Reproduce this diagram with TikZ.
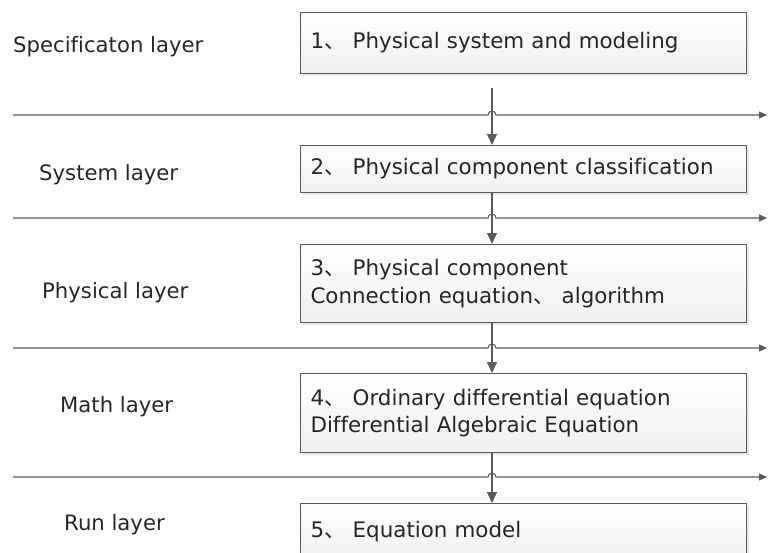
\documentclass[tikz,border=0pt]{standalone}
\usepackage{fontspec}
\setmainfont{DejaVu Sans}[Ligatures=NoCommon]
\newfontfamily\cjk{Noto Sans CJK SC}
\newcommand*{\dun}{{\cjk 、}}
\usetikzlibrary{arrows.meta, calc, positioning, shadows}
\definecolor{linegray}{HTML}{5A5A5A}
\definecolor{textgray}{HTML}{262626}
\tikzstyle{block} = [rectangle, draw=linegray, line width=1.1pt, top color=white, bottom color=gray!12, minimum width=446pt, text width=426pt, inner xsep=10pt, align=left, anchor=north west, font=\fontsize{21.4}{27.5}\selectfont, text=textgray, drop shadow={shadow xshift=2pt, shadow yshift=-2pt, fill=gray!35}]
\tikzstyle{layer} = [anchor=base west, inner sep=0pt, font=\fontsize{21.2}{27}\selectfont, text=textgray]
\tikzstyle{flow} = [-{Triangle[length=11pt, width=10pt]}, draw=linegray, line width=1.1pt]
\tikzstyle{boundary} = [-{Triangle[length=8pt, width=7pt]}, draw=linegray, line width=1.1pt]

\begin{document}
\begin{tikzpicture}[x=1pt, y=-1pt]
    \useasboundingbox (0,0) rectangle (768,552);

    % Steps.
    \node (box1) [block, minimum height=61pt] at (300,12) {1\dun{} Physical system and modeling};
    \node (box2) [block, minimum height=47pt] at (300,145) {2\dun{} Physical component classification};
    \node (box3) [block, minimum height=78pt] at (300,244) {3\dun{} Physical component\\Connection equation\dun{} algorithm};
    \node (box4) [block, minimum height=79pt] at (300,373) {4\dun{} Ordinary differential equation\\Differential Algebraic Equation};
    \node (box5) [block, minimum height=56pt] at (300,503) {5\dun{} Equation model};

    % Layer names.
    \node (spec) [layer] at (13,52) {Specificaton layer};
    \node (system) [layer] at (39,180) {System layer};
    \node (physical) [layer] at (42,298) {Physical layer};
    \node (math) [layer] at (60,412) {Math layer};
    \node (run) [layer] at (64,530) {Run layer};

    % Layer boundaries, jumping over the flow.
    \coordinate (axis) at (492,0);
    \foreach \i/\y in {1/115, 2/218, 3/348, 4/477} {
        \coordinate (left\i) at (13,\y);
        \coordinate (right\i) at (767,\y);
        \draw [boundary] (left\i) -- ($(left\i -| axis) + (-4,0)$)
            arc [start angle=180, end angle=0, radius=4pt] -- (right\i);
    }

    % Flow.
    \coordinate (top1) at (492,88);
    \draw [flow] (top1) -- (box2.north -| axis);
    \foreach \i/\j in {2/3, 3/4, 4/5} {
        \draw [flow] (box\i.south -| axis) -- (box\j.north -| axis);
    }
\end{tikzpicture}
\end{document}
